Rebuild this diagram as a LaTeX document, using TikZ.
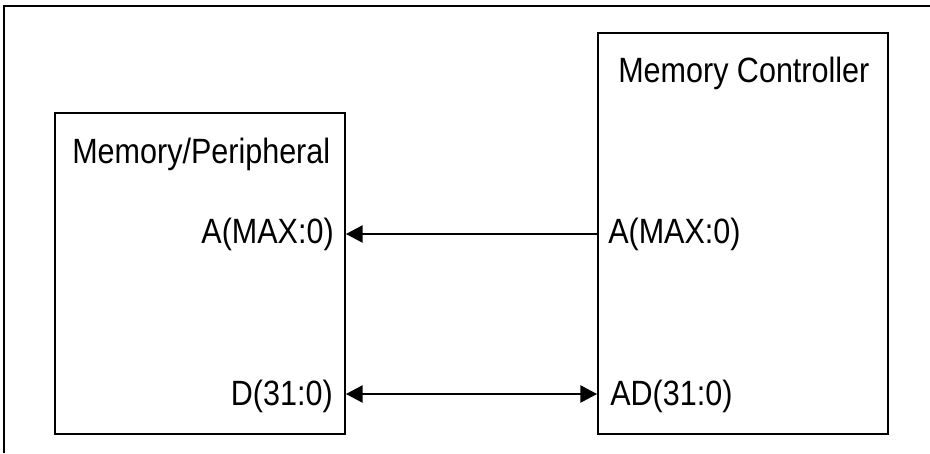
\documentclass[tikz,border=0pt]{standalone}
\usepackage{fontspec}
\setmainfont{Liberation Sans}
\usetikzlibrary{arrows.meta,fit}
\newcommand{\tallt}[1]{\scalebox{1}[1.15]{#1}}
\begin{document}
\begin{tikzpicture}[x=0.75pt,y=-0.75pt,
  frameline/.style={line width=1.5pt},
  boxstyle/.style={draw,line width=1.5pt,inner sep=0pt,fill=none},
  lbl/.style={inner sep=0pt,font=\fontsize{22.9}{27}\selectfont},
  conn/.style={line width=1.1pt,-{Triangle[length=12.5pt,width=13pt]}},
  bconn/.style={line width=1.1pt,{Triangle[length=12.5pt,width=13pt]}-{Triangle[length=12.5pt,width=13pt]}}]
\useasboundingbox (0,0) rectangle (930,453);
% outer frame (only top and left edges visible)
\coordinate (ftr) at (930,6);
\coordinate (ftl) at (4,6);
\coordinate (fbl) at (4,453);
\draw[frameline] (ftr) -- (ftl) -- (fbl);
% boxes
\coordinate (mpa) at (55,113);
\coordinate (mpb) at (345,434);
\coordinate (mca) at (598,33);
\coordinate (mcb) at (888,434);
\node[boxstyle,fit=(mpa)(mpb)] (mp) {};
\node[boxstyle,fit=(mca)(mcb)] (mc) {};
% titles
\node[lbl,anchor=base west] (mptitle) at (72,163) {\tallt{Memory/Peripheral}};
\node[lbl,anchor=base west] (mctitle) at (618,82) {\tallt{Memory Controller}};
% signal labels
\node[lbl,anchor=base east] (pa) at (334,243) {\tallt{A(MAX:0)}};
\node[lbl,anchor=base west] (ca) at (608,243) {\tallt{A(MAX:0)}};
\node[lbl,anchor=base east] (pd) at (333,405) {\tallt{D(31:0)}};
\node[lbl,anchor=base west] (cd) at (610,405) {\tallt{AD(31:0)}};
% connectors
\coordinate (paEnd) at (mp.east |- 0,234);
\coordinate (caEnd) at (mc.west |- 0,234);
\coordinate (pdEnd) at (mp.east |- 0,394);
\coordinate (cdEnd) at (mc.west |- 0,394);
\draw[conn] (caEnd) -- (paEnd);
\draw[bconn] (pdEnd) -- (cdEnd);
\end{tikzpicture}
\end{document}
